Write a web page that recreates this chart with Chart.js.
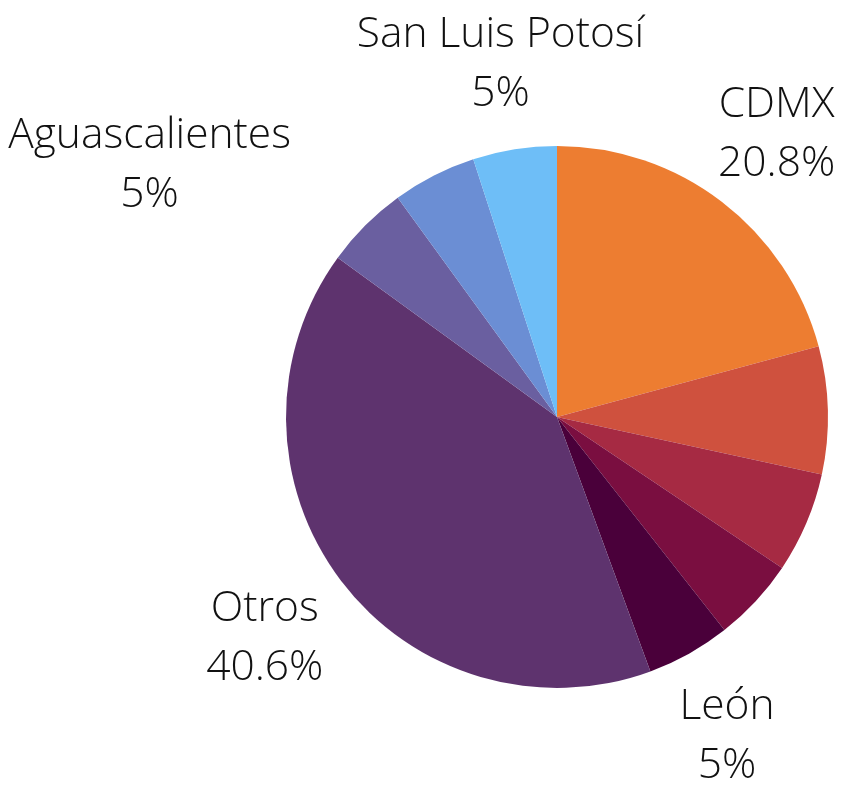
<!DOCTYPE html>
<html lang="es">

<head>
    <meta charset="UTF-8">
    <title>Pie</title>
    <script src="https://cdn.jsdelivr.net/npm/chart.js"></script>
    <style>
        html, body {
            margin: 0;
            padding: 0;
            background: #fff;
        }

        #wrap {
            width: 841px;
            height: 787px;
        }
    </style>
</head>

<body>
    <div id="wrap">
        <canvas id="pieChart"></canvas>
    </div>

    <script>
        // data, clockwise from the top
        var regiones = ['CDMX', 'Querétaro', 'Monterrey', 'Guadalajara', 'León', 'Otros', 'Aguascalientes', 'Puebla', 'San Luis Potosí'];
        var porcentajes = [20.8, 7.6, 6.0, 5, 5, 40.6, 5, 5, 5];
        var conEtiqueta = ['CDMX', 'León', 'Otros', 'Aguascalientes', 'San Luis Potosí'];
        var colores = ['#ED7D31', '#CF513E', '#A62A43', '#7A0E40', '#4A003A', '#5E336E', '#6A5FA0', '#6B8ED4', '#6EBEF7'];

        // outside labels, two lines, centred on the slice direction
        var outsideLabels = {
            id: 'outsideLabels',
            afterDatasetsDraw: function (chart, args, opts) {
                var ctx = chart.ctx;
                var meta = chart.getDatasetMeta(0);
                ctx.save();
                ctx.font = opts.font;
                ctx.fillStyle = opts.color;
                ctx.textAlign = 'center';
                ctx.textBaseline = 'middle';
                meta.data.forEach(function (arc, i) {
                    var name = chart.data.labels[i];
                    if (conEtiqueta.indexOf(name) < 0) return;
                    var p = arc.getProps(['x', 'y', 'startAngle', 'endAngle', 'outerRadius'], true);
                    var mid = (p.startAngle + p.endAngle) / 2;
                    var r = p.outerRadius * opts.distance;
                    var x = p.x + Math.cos(mid) * r + (opts.shiftX[name] || 0);
                    var y = p.y + Math.sin(mid) * r + opts.shiftY;
                    var val = chart.data.datasets[0].data[i];
                    ctx.fillText(name, x, y - opts.lineHeight / 2);
                    ctx.fillText(val + '%', x, y + opts.lineHeight / 2);
                });
                ctx.restore();
            }
        };

        var ctx = document.getElementById('pieChart').getContext('2d');
        var chart = new Chart(ctx, {
            type: 'pie',
            data: {
                labels: regiones,
                datasets: [{
                    data: porcentajes,
                    backgroundColor: colores,
                    borderWidth: 0
                }]
            },
            options: {
                responsive: true,
                maintainAspectRatio: false,
                animation: false,
                layout: {
                    padding: { left: 286, right: 13, top: 146, bottom: 99 }
                },
                plugins: {
                    legend: { display: false },
                    tooltip: { enabled: false },
                    outsideLabels: {
                        font: '300 42.5px "Open Sans"',
                        color: '#111',
                        distance: 1.333,
                        lineHeight: 59,
                        shiftY: 4,
                        shiftX: { 'Aguascalientes': -152, 'León': -6, 'Otros': -4 }
                    }
                }
            },
            plugins: [outsideLabels]
        });
    </script>
</body>

</html>
